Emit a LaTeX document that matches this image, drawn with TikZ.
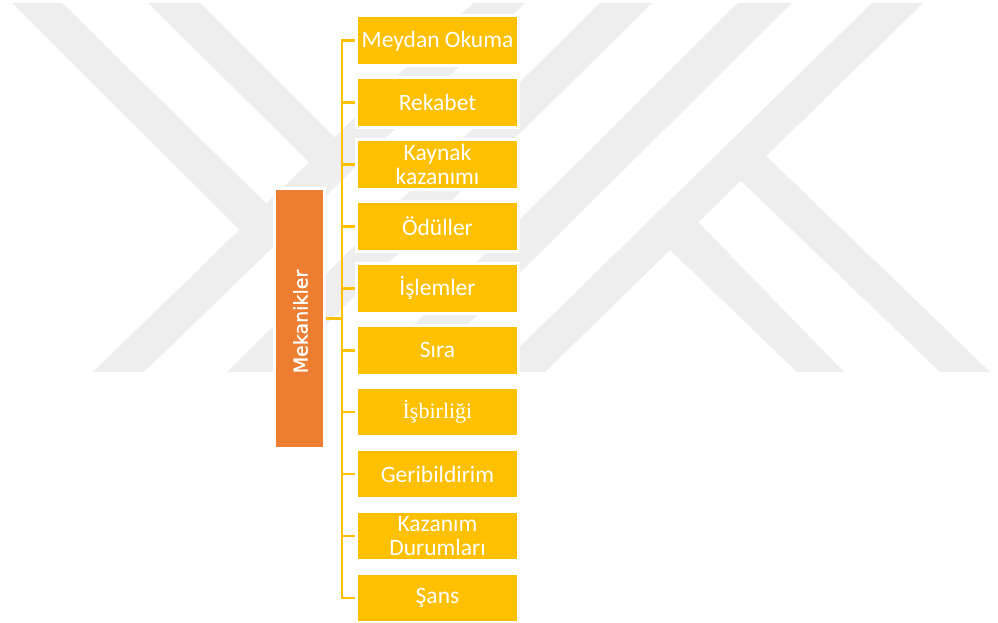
\documentclass[tikz,border=0pt]{standalone}
\usepackage{fontspec}
\setmainfont{Carlito}
\newfontfamily\timesfont{Liberation Serif}
\newfontfamily\headfont[FakeBold=1.2]{DejaVu Sans}
\definecolor{gold}{HTML}{FFC000}
\definecolor{burnt}{HTML}{ED7D31}
\definecolor{wm}{HTML}{EEEEEE}
\tikzset{
  item/.style={fill=gold, draw=white, line width=2pt, minimum width=161pt,
    minimum height=48.5pt, inner sep=0pt, text=white, align=center,
    font=\fontsize{23.5}{24.5}\selectfont},
  head/.style={fill=burnt, draw=white, line width=2pt, minimum width=49pt,
    minimum height=259pt, inner sep=0pt},
  link/.style={draw=gold, line width=2.5pt}
}
\begin{document}
\begin{tikzpicture}[x=1pt,y=-1pt]
\useasboundingbox (0,0) rectangle (998,623);
\fill[white] (0,0) rectangle (998,623);

% light grey background emblem: diagonal bands
\fill[wm] (93,372) -- (144,372) -- (525,3) -- (473,3) -- cycle;
\fill[wm] (227,372) -- (278,372) -- (652,3) -- (600,3) -- cycle;
\fill[wm] (366,372) -- (420,372) -- (792,3) -- (738,3) -- cycle;
\fill[wm] (494,372) -- (545,372) -- (923,3) -- (872,3) -- cycle;
\fill[wm] (12,3) -- (62,3) -- (285,222) -- (250,240) -- cycle;
\fill[wm] (148,3) -- (200,3) -- (360,163) -- (309,162) -- cycle;
\fill[wm] (736,176) -- (761,151) -- (990,372) -- (940,372) -- cycle;
\fill[wm] (664,244) -- (692,216) -- (844,372) -- (797,372) -- cycle;

% root node
\node[head] (root) at (299.5,318.5) {};
\node[rotate=90, text=white, inner sep=0pt, font=\headfont\fontsize{19}{20}\selectfont]
  (roottext) at (300.5,321.5) {Mekanikler};

% child nodes
\node[item] (b1)  at (437.5,40.75)  {Meydan Okuma};
\node[item] (b2)  at (437.5,102.65) {Rekabet};
\node[item] (b3)  at (437.5,164.55) {Kaynak\\kazanımı};
\node[item] (b4)  at (437.5,226.45) {Ödüller};
\node[item] (b5)  at (437.5,288.35) {İşlemler};
\node[item] (b6)  at (437.5,350.25) {Sıra};
\node[item, font=\timesfont\fontsize{22}{24}\selectfont] (b7) at (437.5,412.15) {İşbirliği};
\node[item] (b8)  at (437.5,474.05) {Geribildirim};
\node[item] (b9)  at (437.5,535.95) {Kazanım\\Durumları};
\node[item] (b10) at (437.5,597.85) {Şans};

% connectors
\coordinate (spine) at (342,0);
\draw[link, line join=miter] (b1.west) -- (b1.west -| spine) -- (b10.west -| spine) -- (b10.west);
\draw[link] (root.east) -- (root.east -| spine);
\foreach \n in {b2,b3,b4,b5,b6,b7,b8,b9}
  \draw[link] (\n.west -| spine) -- (\n.west);

% redraw the white rims over the connector ends
\foreach \n in {b1,b2,b3,b4,b5,b6,b7,b8,b9,b10,root}
  \draw[white, line width=2pt] (\n.south west) rectangle (\n.north east);
\end{tikzpicture}
\end{document}
